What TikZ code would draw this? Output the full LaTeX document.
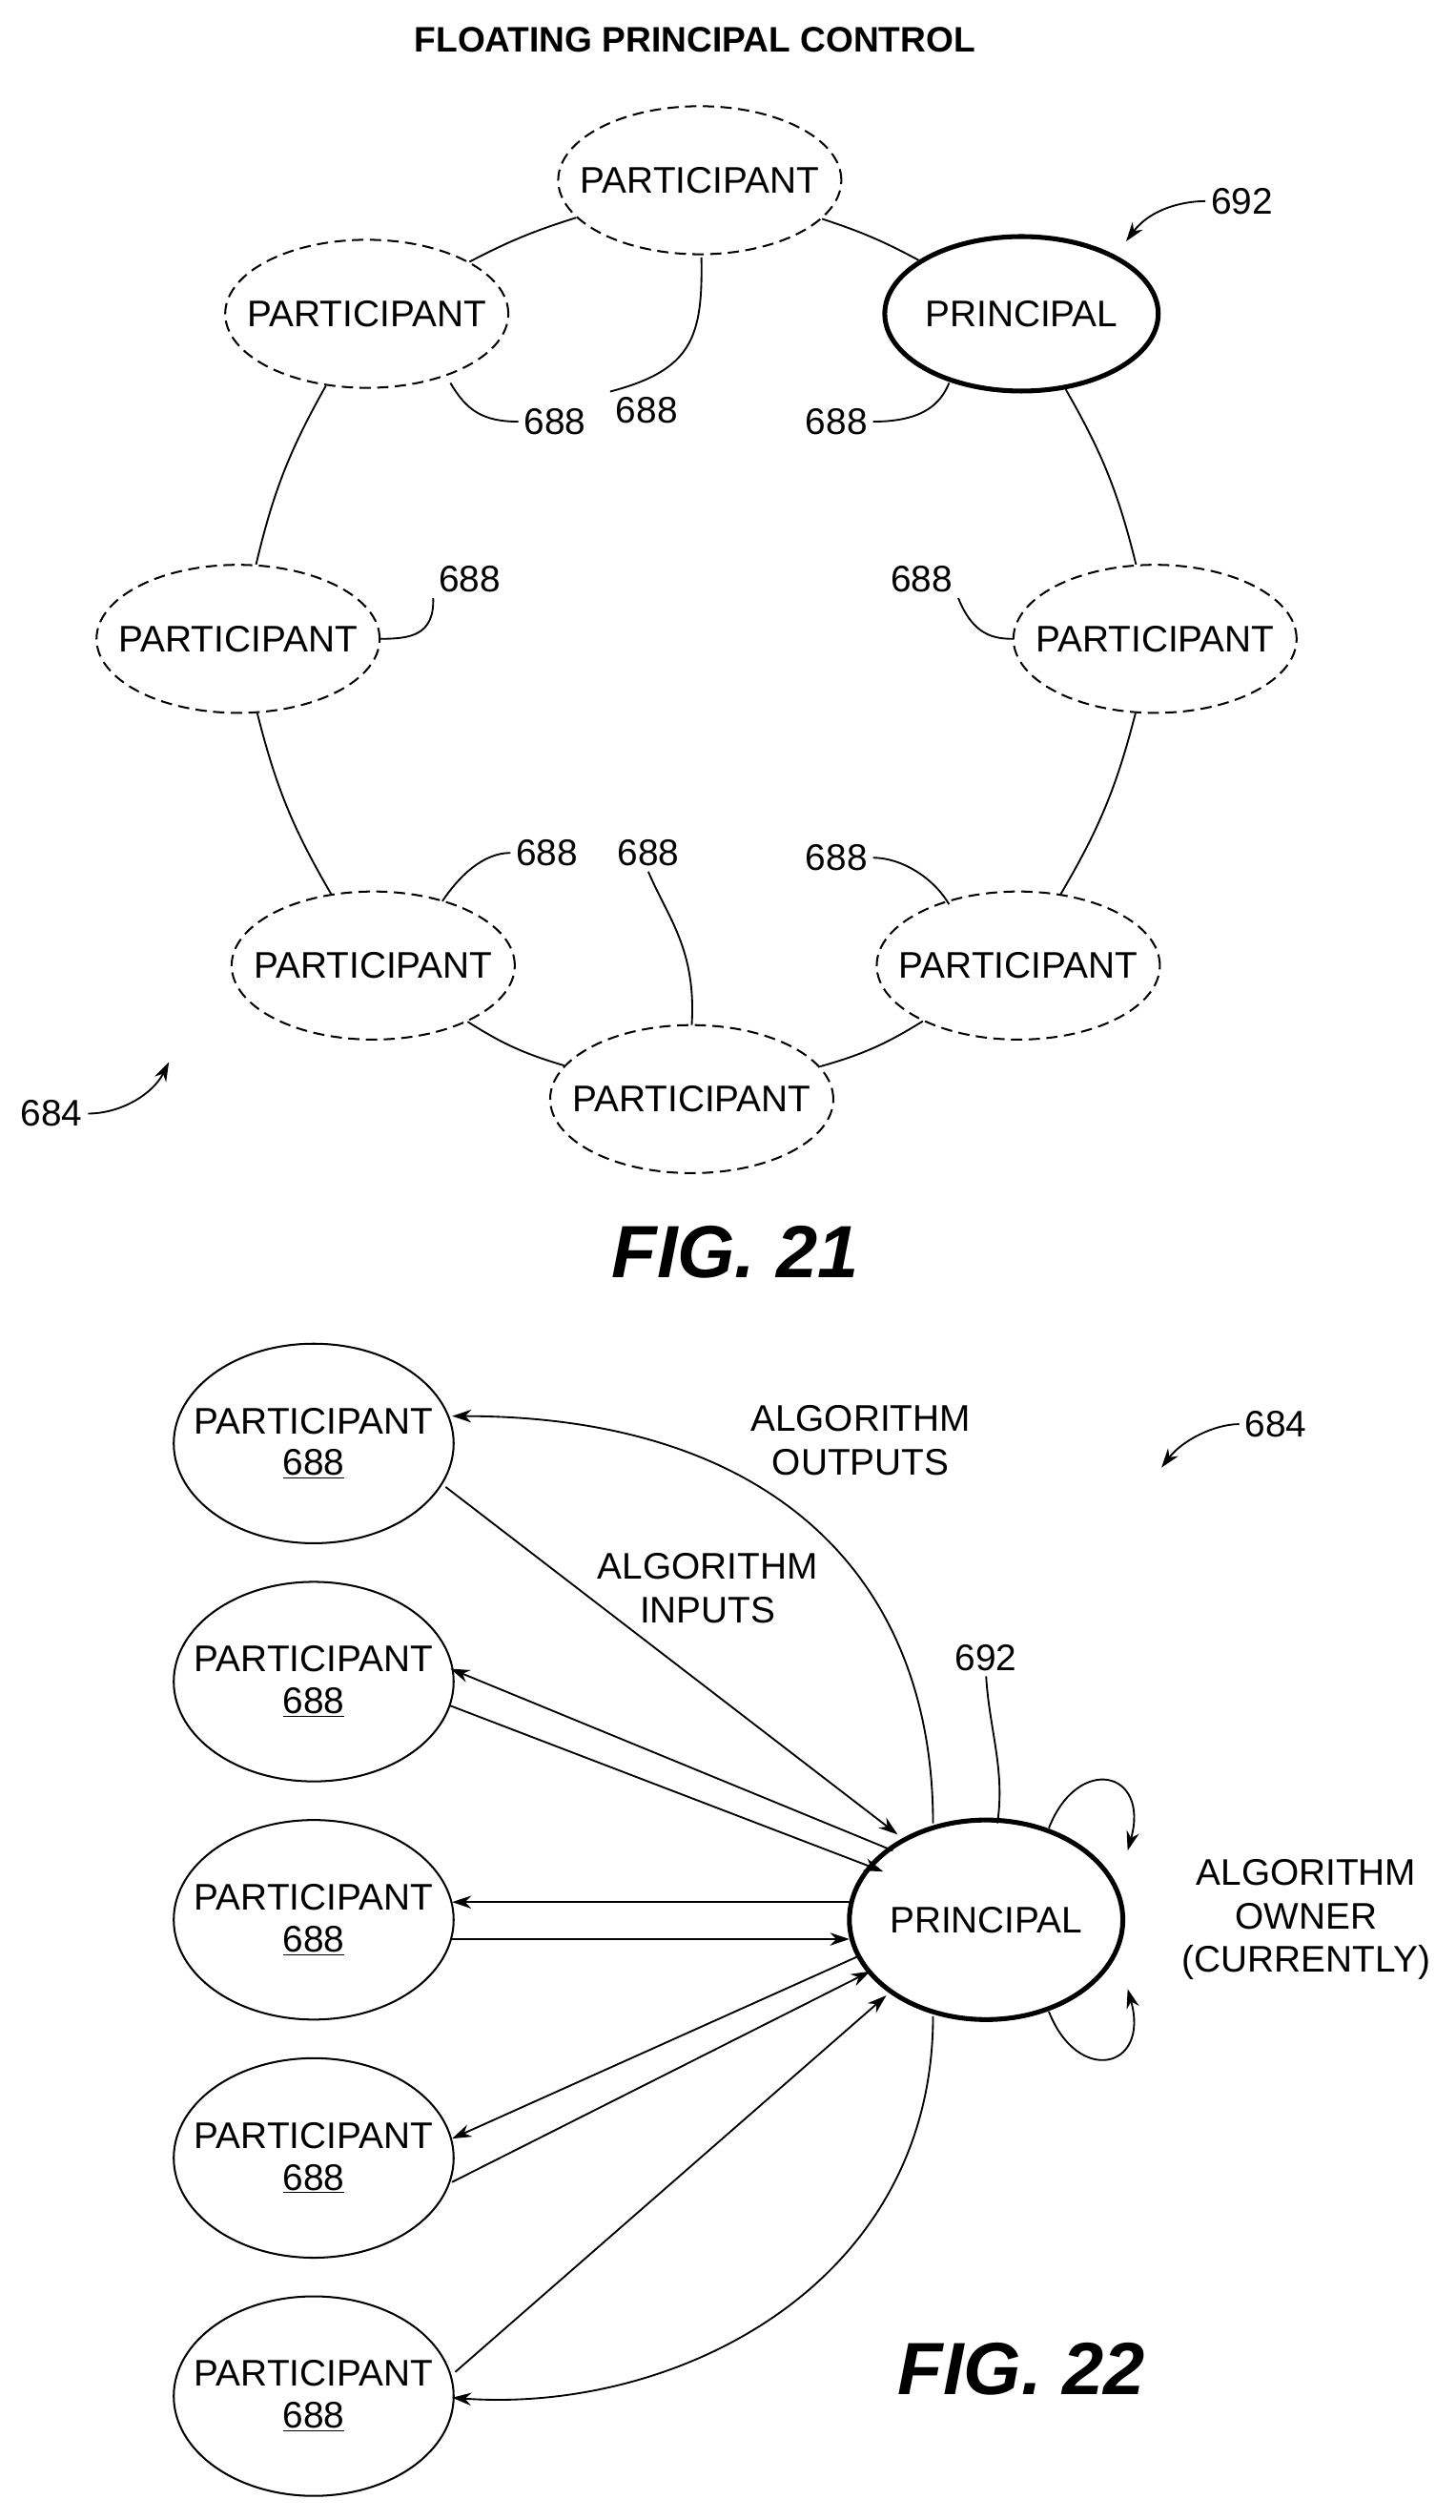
\documentclass[tikz,border=0pt]{standalone}
\usepackage{fontspec}
\setmainfont{Liberation Sans}
\usetikzlibrary{arrows.meta,shapes.geometric}
\newcommand{\ul}[1]{\underline{#1}}
\begin{document}
\begin{tikzpicture}[x=1pt,y=-1pt,
 part/.style={draw,dash pattern=on 7pt off 4pt,ellipse,minimum width=176pt,minimum height=92pt,inner xsep=-16pt,inner ysep=0pt,font=\fontsize{23}{27}\selectfont,line width=1.2pt},
 princ/.style={draw,ellipse,minimum width=170pt,minimum height=96pt,inner sep=0pt,font=\fontsize{23}{27}\selectfont,line width=3pt},
 p2/.style={draw,ellipse,minimum width=174pt,minimum height=124pt,inner xsep=-14pt,inner ysep=0pt,font=\fontsize{23}{27}\selectfont,align=center,line width=1.2pt},
 lab/.style={font=\fontsize{23}{27}\selectfont,align=center},
 ln/.style={line width=1.1pt},
 ar/.style={line width=1.1pt,-{Stealth[length=12pt,width=8pt]}}]
\useasboundingbox (0,0) rectangle (905,1566);
\node[font=\bfseries\fontsize{22}{26}\selectfont] (title) at (432,25) {FLOATING PRINCIPAL CONTROL};
\node[part] (t) at (435,112) {PARTICIPANT};
\node[princ] (pr) at (635,195) {PRINCIPAL};
\node[part] (lu) at (228,195) {PARTICIPANT};
\node[part] (lm) at (148,397) {PARTICIPANT};
\node[part] (rm) at (718,397) {PARTICIPANT};
\node[part] (ll) at (232,600) {PARTICIPANT};
\node[part] (rl) at (633,600) {PARTICIPANT};
\node[part] (b) at (430,683) {PARTICIPANT};
\draw[ln] (t) to[bend left=5] (pr);
\draw[ln] (lu) to[bend left=5] (t);
\draw[ln] (lm) to[bend left=8] (lu);
\draw[ln] (ll) to[bend left=8] (lm);
\draw[ln] (b) to[bend left=8] (ll);
\draw[ln] (rl) to[bend left=8] (b);
\draw[ln] (rm) to[bend left=8] (rl);
\draw[ln] (pr) to[bend left=8] (rm);
% 688 labels
\node[lab] (n1) at (345,262) {688};
\node[lab] (n2) at (402,255) {688};
\node[lab] (n3) at (520,262) {688};
\node[lab] (n4) at (292,360) {688};
\node[lab] (n5) at (573,360) {688};
\node[lab] (n6) at (340,530) {688};
\node[lab] (n7) at (403,530) {688};
\node[lab] (n8) at (520,533) {688};
\draw[ln] (n1.west) .. controls (300,262) and (290,255) .. (280,238);
\draw[ln] (n2.north west) .. controls (430,230) and (437,210) .. (436,160);
\draw[ln] (n3.east) .. controls (575,262) and (585,250) .. (590,238);
\draw[ln] (n4.south west) .. controls (270,395) and (255,397) .. (236,397);
\draw[ln] (n5.south east) .. controls (605,395) and (618,397) .. (630,397);
\draw[ln] (n6.west) .. controls (300,530) and (285,545) .. (275,560);
\draw[ln] (n7.south) .. controls (415,570) and (433,590) .. (430,637);
\draw[ln] (n8.east) .. controls (560,533) and (580,545) .. (590,562);
\node[lab] (n692) at (772,125) {692};
\draw[ar] (n692.west) .. controls (735,125) and (715,130) .. (700,150);
\node[lab] (n684) at (32,692) {684};
\draw[ar] (n684.east) .. controls (75,692) and (95,680) .. (105,660);
\node[font=\bfseries\itshape\fontsize{46}{52}\selectfont] (f21) at (457,778) {FIG. 21};
% Fig 22
\foreach \i/\y in {1/897,2/1045,3/1193,4/1341,5/1489}
  \node[p2] (q\i) at (195,\y) {PARTICIPANT\\[-1pt]\ul{688}};
\node[draw,ellipse,minimum width=170pt,minimum height=124pt,inner sep=0pt,font=\fontsize{23}{27}\selectfont,line width=3pt] (P) at (613,1193) {PRINCIPAL};
\coordinate (Pt) at (580,1133);
\coordinate (Pb) at (580,1253);
\draw[ar] (Pt) .. controls (580,980) and (480,880) .. (281,880);
\draw[ar] (277,924) -- (558,1140);
\draw[ar] (555,1150) -- (280,1037);
\draw[ar] (280,1060) -- (549,1163);
\draw[ar] (528,1182) -- (281,1182);
\draw[ar] (281,1205) -- (528,1205);
\draw[ar] (535,1215) -- (281,1329);
\draw[ar] (281,1356) -- (541,1225);
\draw[ar] (283,1474) -- (551,1240);
\draw[ar] (Pb) .. controls (580,1420) and (420,1500) .. (281,1490);
\draw[ar] (652,1136) .. controls (670,1090) and (715,1100) .. (701,1150);
\draw[ar] (652,1250) .. controls (670,1296) and (715,1286) .. (701,1236);
\node[lab] (ao) at (535,895) {ALGORITHM\\OUTPUTS};
\node[lab] (ai) at (440,987) {ALGORITHM\\INPUTS};
\node[lab] (k692) at (613,1030) {692};
\draw[ln] (k692.south) .. controls (615,1075) and (625,1100) .. (620,1133);
\node[lab] (own) at (812,1193) {ALGORITHM\\OWNER\\(CURRENTLY)};
\node[lab] (k684) at (793,885) {684};
\draw[ar] (k684.west) .. controls (755,885) and (735,895) .. (722,912);
\node[font=\bfseries\itshape\fontsize{46}{52}\selectfont] (f22) at (635,1472) {FIG. 22};
\end{tikzpicture}
\end{document}
